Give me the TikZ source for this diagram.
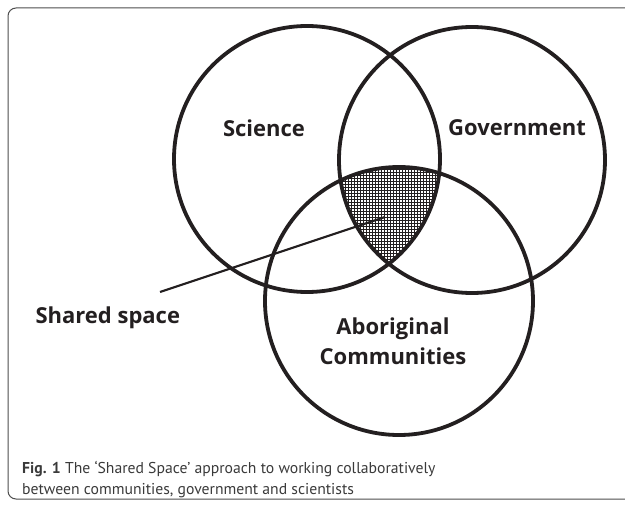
\documentclass[tikz,border=0pt]{standalone}
\usepackage{fontspec}
\setmainfont{PT Sans}
\newfontfamily\vennfont{Open Sans}
\usepackage{tikz}
\usepackage{xcolor}
\usetikzlibrary{patterns}
\definecolor{vblack}{HTML}{231f20}
\definecolor{vgray}{HTML}{3a3a3a}
\definecolor{vframe}{HTML}{4d4d4d}

\begin{document}
\begin{tikzpicture}[x=1pt, y=-1pt,
	vennring/.style={color=vblack, line width=3.8pt},
	vennlabel/.style={text=vblack, font=\vennfont\bfseries\fontsize{22}{30}\selectfont, align=center}]
		\useasboundingbox (0,0) rectangle (625,511);
		\draw[color=vframe, line width=1pt, rounded corners=8pt] (8,8) rectangle (640,499);
		\coordinate (sci) at (307,159);
		\coordinate (gov) at (472,160);
		\coordinate (abo) at (399,301);
		\begin{scope}
			\clip (sci) circle (133pt);
			\clip (gov) circle (133pt);
			\fill[pattern=grid, pattern color=vblack] (abo) circle (134pt);
		\end{scope}
		\draw[vennring] (sci) circle (133pt);
		\draw[vennring] (gov) circle (133pt);
		\draw[vennring] (abo) circle (134pt);
		\node[vennlabel] (science) at (264,128) {Science};
		\node[vennlabel] (government) at (517,128) {Government};
		\node[vennlabel] (aboriginal) at (393,341) {Aboriginal\\Communities};
		\node[vennlabel, anchor=west] (shared) at (32,318) {Shared space};
		\coordinate (tail) at (160,292);
		\coordinate (tip) at (385,217);
		\draw[color=vblack, line width=2.2pt] (tail) -- (tip);
		\node[anchor=north west, inner sep=0pt, align=left, text=vgray, font=\fontsize{15.7}{21.5}\selectfont] (caption) at (22,461) {\textbf{Fig. 1} The ‘Shared Space’ approach to working collaboratively\\between communities, government and scientists};
	\end{tikzpicture}
\end{document}
